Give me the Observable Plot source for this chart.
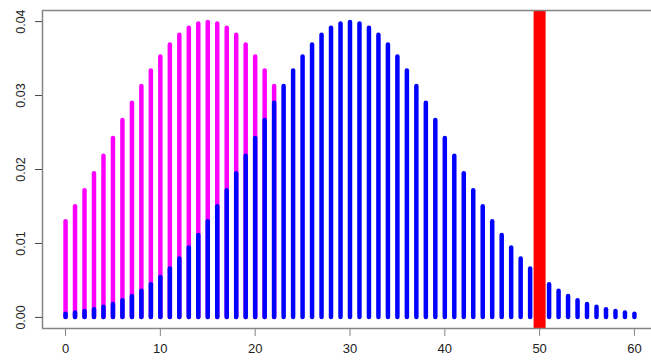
<!DOCTYPE html>
<html><head><meta charset="utf-8">
<script src="https://cdn.jsdelivr.net/npm/d3@7"></script>
<script src="https://cdn.jsdelivr.net/npm/@observablehq/plot@0.6"></script>
<style>body{margin:0;background:#fff} svg{display:block}</style>
</head><body><div id="chart"></div>
<script>
// Blue series, x = 0..60
const blueValues = [
  0.00044, 0.00059, 0.00079, 0.00104, 0.00136, 0.00175, 0.00224, 0.00283, 0.00355, 0.00440,
  0.00540, 0.00656, 0.00789, 0.00940, 0.01109, 0.01295, 0.01497, 0.01714, 0.01942, 0.02179,
  0.02420, 0.02661, 0.02897, 0.03123, 0.03332, 0.03521, 0.03683, 0.03814, 0.03910, 0.03969,
  0.03989,
  0.03969, 0.03910, 0.03814, 0.03683, 0.03521, 0.03332, 0.03123, 0.02897, 0.02661, 0.02420,
  0.02179, 0.01942, 0.01714, 0.01497, 0.01295, 0.01109, 0.00940, 0.00789, 0.00656, 0.00540,
  0.00440, 0.00355, 0.00283, 0.00224, 0.00175, 0.00136, 0.00104, 0.00079, 0.00059, 0.00044
];
// Magenta series, x = 0..22
const magentaValues = [
  0.01295, 0.01497, 0.01714, 0.01942, 0.02179, 0.02420, 0.02661, 0.02897, 0.03123, 0.03332,
  0.03521, 0.03683, 0.03814, 0.03910, 0.03969, 0.03989, 0.03969, 0.03910, 0.03814, 0.03683,
  0.03521, 0.03332, 0.03123
];
const yTicks = [0, 0.01, 0.02, 0.03, 0.04];
const xTicks = [0, 10, 20, 30, 40, 50, 60];
const redLineX = 50;
const xDomain = [-2.43, 61.8];
const yDomain = [-0.0015, 0.0415];

const blue = blueValues.map((v, i) => ({x: i, y: v}));
const magenta = magentaValues.map((v, i) => ({x: i, y: v}));

const frameColor = "#858585";
const chart = Plot.plot({
  width: 651, height: 360,
  marginLeft: 42, marginRight: 0, marginTop: 10, marginBottom: 32,
  x: {domain: xDomain, label: null},
  y: {domain: yDomain, label: null},
  style: {fontFamily: "'Liberation Sans', Arial, sans-serif", background: "#fff"},
  marks: [
    Plot.ruleX(magenta, {x: "x", y1: 0, y2: "y", stroke: "#ff00ff", strokeWidth: 4.5, strokeLinecap: "round"}),
    Plot.ruleX(blue, {x: "x", y1: 0, y2: "y", stroke: "#0000ff", strokeWidth: 4.5, strokeLinecap: "round"}),
    Plot.ruleX([redLineX], {stroke: "#ff0000", strokeWidth: 12}),
    Plot.ruleX([xDomain[0]], {stroke: frameColor, strokeWidth: 1.5}),
    Plot.ruleY([yDomain[0], yDomain[1]], {stroke: frameColor, strokeWidth: 1.5}),
    Plot.axisY({ticks: yTicks, tickSize: 7, stroke: "#444", tickFormat: () => "", label: null}),
    Plot.axisX({ticks: xTicks, tickSize: 8, stroke: frameColor, tickFormat: () => "", label: null}),
    Plot.text(yTicks, {y: d => d, text: d => d.toFixed(2), frameAnchor: "left", dx: -22, rotate: -90,
      fontSize: 12.5, fill: "#222", textAnchor: "middle"}),
    Plot.text(xTicks, {x: d => d, text: d => String(d), frameAnchor: "bottom", dy: 24,
      fontSize: 13, fill: "#222"})
  ]
});
document.getElementById("chart").appendChild(chart);
</script>
</body></html>
